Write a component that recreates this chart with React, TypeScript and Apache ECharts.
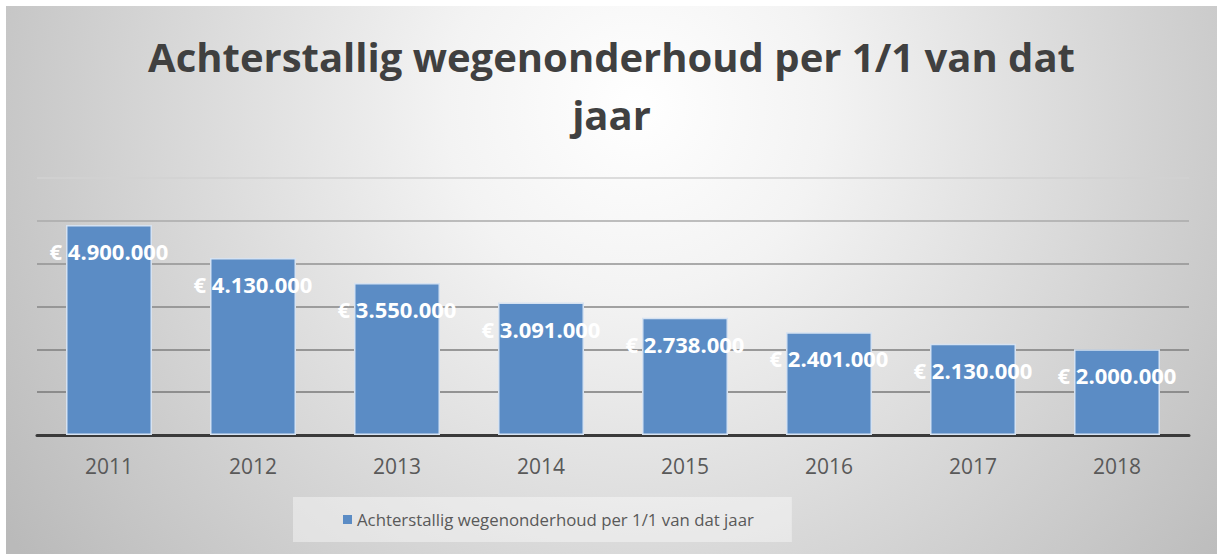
import React, { useEffect, useRef } from "react";
import * as echarts from "echarts";

const categories = ["2011", "2012", "2013", "2014", "2015", "2016", "2017", "2018"];
const values = [4900000, 4130000, 3550000, 3091000, 2738000, 2401000, 2130000, 2000000];
const seriesName = "Achterstallig wegenonderhoud per 1/1 van dat jaar";
const titleText = "Achterstallig wegenonderhoud per 1/1 van dat\njaar";
const yMax = 6000000;
const yInterval = 1000000;

const fmt = (v: number) => "€ " + String(v).replace(/\B(?=(\d{3})+(?!\d))/g, ".");

export default function App() {
  const ref = useRef<HTMLDivElement>(null);
  useEffect(() => {
    if (!ref.current) return;
    const chart = echarts.init(ref.current, null, { renderer: "svg" });
    const W = 1211;
    const H = 548;
    chart.setOption({
      animation: false,
      graphic: [
        {
          type: "rect",
          z: -100,
          silent: true,
          shape: { x: 0, y: 0, width: W, height: H },
          style: {
            fill: new echarts.graphic.RadialGradient(
              630,
              100,
              760,
              [
                { offset: 0, color: "#ffffff" },
                { offset: 0.25, color: "#f3f3f3" },
                { offset: 1, color: "#bababa" },
              ],
              true
            ),
          },
        },
      ],
      title: {
        text: titleText,
        left: "center",
        top: 16,
        textStyle: {
          fontFamily: "Open Sans",
          fontWeight: "bold",
          fontSize: 40,
          lineHeight: 58,
          color: "#404040",
        },
      },
      legend: {
        left: 287,
        top: 491,
        padding: [14, 38, 14, 50],
        backgroundColor: "rgba(255,255,255,0.4)",
        itemWidth: 9,
        itemHeight: 9,
        icon: "rect",
        itemStyle: { borderWidth: 0 },
        textStyle: { fontFamily: "Open Sans", fontSize: 16.8, color: "#595959" },
        data: [seriesName],
      },
      grid: { left: 31, right: 28, top: 172, bottom: 119 },
      xAxis: {
        type: "category",
        data: categories,
        axisTick: { show: false },
        axisLine: { lineStyle: { color: "#3a3a3a", width: 3 } },
        axisLabel: {
          margin: 20,
          color: "#595959",
          fontSize: 21,
          fontFamily: "Open Sans",
        },
      },
      yAxis: {
        type: "value",
        min: 0,
        max: yMax,
        interval: yInterval,
        axisLabel: { show: false },
        axisLine: { show: false },
        axisTick: { show: false },
        splitLine: {
          lineStyle: {
            width: 1.5,
            color: ["#777777", "#787878", "#7e7e7e", "#868686", "#929292", "#aaaaaa", "#d2d2d2"],
          },
        },
      },
      series: [
        {
          name: seriesName,
          type: "bar",
          data: values,
          barWidth: 86,
          itemStyle: { color: "#5b8cc5", borderColor: "#d6e2f1", borderWidth: 1.5 },
          label: {
            show: true,
            position: "insideTop",
            distance: 15,
            color: "#ffffff",
            fontWeight: "bold",
            fontSize: 22,
            fontFamily: "Open Sans",
            formatter: (p: any) => fmt(p.value),
          },
        },
      ],
    });
    return () => chart.dispose();
  }, []);
  return (
    <div
      ref={ref}
      style={{ position: "absolute", left: 6, top: 6, width: 1211, height: 548 }}
    />
  );
}
